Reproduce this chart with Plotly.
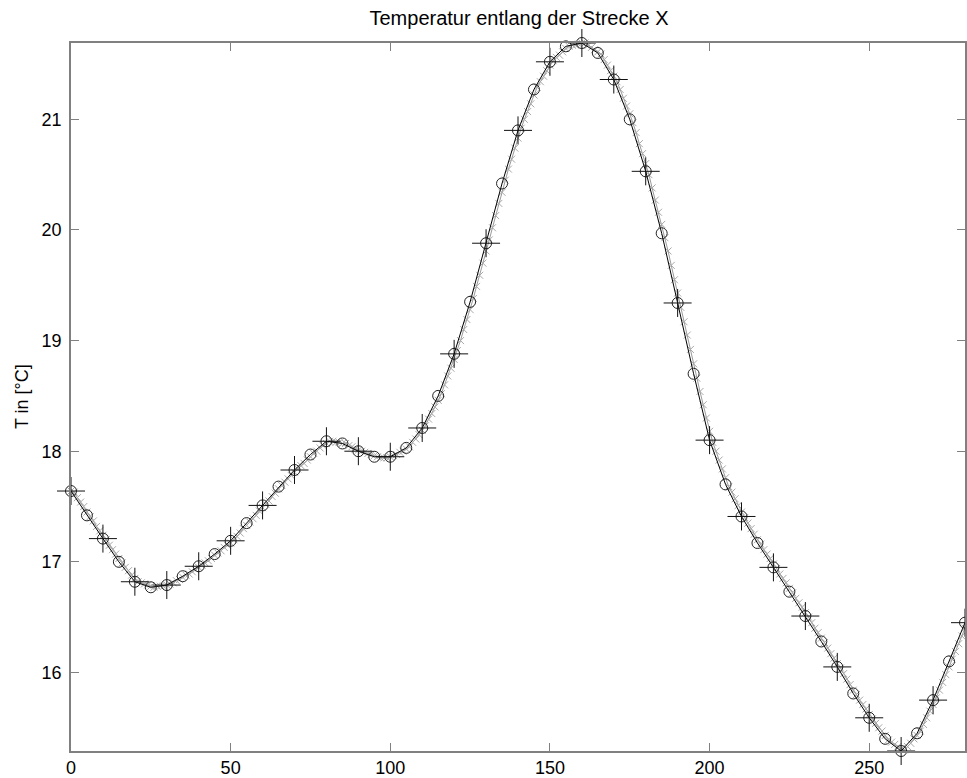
import plotly.graph_objects as go

# Temperature readings every 5 units along the route (black line, circles)
x_coarse = list(range(0, 281, 5))
t_coarse = [
    17.64, 17.42, 17.21, 17.00, 16.82, 16.77, 16.79, 16.87, 16.96, 17.07,
    17.19, 17.35, 17.51, 17.68, 17.83, 17.97, 18.09, 18.07, 18.00, 17.95,
    17.95, 18.03, 18.21, 18.50, 18.88, 19.35, 19.88, 20.42, 20.90, 21.27,
    21.52, 21.66, 21.69, 21.60, 21.36, 21.00, 20.53, 19.97, 19.34, 18.70,
    18.10, 17.70, 17.41, 17.17, 16.95, 16.73, 16.51, 16.28, 16.05, 15.81,
    15.59, 15.40, 15.29, 15.45, 15.75, 16.10, 16.45,
]

# Readings every 10 units (plus markers)
x_plus = list(range(0, 281, 10))
t_plus = [
    17.64, 17.21, 16.82, 16.79, 16.96, 17.19, 17.51, 17.83, 18.09, 18.00,
    17.95, 18.21, 18.88, 19.88, 20.90, 21.52, 21.69, 21.36, 20.53, 19.34,
    18.10, 17.41, 16.95, 16.51, 16.05, 15.59, 15.29, 15.75, 16.45,
]

# Dense readings every unit (grey line, x markers)
x_dense = list(range(0, 281))
t_dense = [
    17.64,
    17.63, 17.58, 17.54, 17.50, 17.45, 17.41, 17.37, 17.32, 17.28, 17.24,
    17.20, 17.15, 17.11, 17.07, 17.03, 16.99, 16.95, 16.92, 16.88, 16.85,
    16.82, 16.81, 16.80, 16.79, 16.78, 16.77, 16.78, 16.78, 16.78, 16.79,
    16.80, 16.81, 16.83, 16.84, 16.86, 16.88, 16.89, 16.91, 16.93, 16.95,
    16.97, 16.99, 17.01, 17.03, 17.06, 17.08, 17.10, 17.13, 17.15, 17.17,
    17.20, 17.23, 17.26, 17.30, 17.33, 17.36, 17.39, 17.42, 17.46, 17.49,
    17.52, 17.55, 17.59, 17.62, 17.66, 17.69, 17.72, 17.75, 17.78, 17.81,
    17.84, 17.87, 17.89, 17.92, 17.95, 17.98, 18.00, 18.03, 18.05, 18.07,
    18.09, 18.09, 18.08, 18.08, 18.07, 18.07, 18.05, 18.04, 18.02, 18.01,
    18.00, 17.99, 17.98, 17.97, 17.96, 17.95, 17.94, 17.94, 17.94, 17.95,
    17.96, 17.97, 17.99, 18.00, 18.02, 18.04, 18.08, 18.11, 18.15, 18.19,
    18.23, 18.29, 18.34, 18.40, 18.46, 18.52, 18.60, 18.68, 18.75, 18.83,
    18.91, 19.00, 19.10, 19.19, 19.28, 19.38, 19.49, 19.59, 19.70, 19.81,
    19.91, 20.02, 20.13, 20.24, 20.34, 20.45, 20.55, 20.64, 20.74, 20.83,
    20.92, 21.00, 21.07, 21.14, 21.22, 21.29, 21.34, 21.39, 21.44, 21.49,
    21.53, 21.56, 21.58, 21.61, 21.64, 21.66, 21.67, 21.67, 21.68, 21.69,
    21.69, 21.67, 21.65, 21.63, 21.61, 21.59, 21.54, 21.49, 21.44, 21.39,
    21.34, 21.27, 21.19, 21.12, 21.05, 20.97, 20.88, 20.78, 20.69, 20.60,
    20.50, 20.38, 20.27, 20.16, 20.05, 19.93, 19.81, 19.68, 19.55, 19.43,
    19.30, 19.17, 19.05, 18.92, 18.79, 18.66, 18.54, 18.42, 18.30, 18.18,
    18.08, 18.00, 17.92, 17.84, 17.76, 17.68, 17.63, 17.57, 17.51, 17.45,
    17.40, 17.35, 17.30, 17.25, 17.20, 17.16, 17.11, 17.07, 17.03, 16.98,
    16.94, 16.89, 16.85, 16.81, 16.76, 16.72, 16.67, 16.63, 16.59, 16.54,
    16.50, 16.45, 16.40, 16.36, 16.31, 16.27, 16.22, 16.17, 16.13, 16.08,
    16.04, 15.99, 15.94, 15.89, 15.84, 15.80, 15.75, 15.71, 15.67, 15.62,
    15.58, 15.54, 15.50, 15.47, 15.43, 15.39, 15.37, 15.35, 15.33, 15.31,
    15.30, 15.33, 15.36, 15.40, 15.43, 15.47, 15.53, 15.59, 15.65, 15.71,
    15.77, 15.84, 15.91, 15.98, 16.05, 16.12, 16.19, 16.26, 16.33, 16.40,
]

x_ticks = [0, 50, 100, 150, 200, 250]
y_ticks = [16, 17, 18, 19, 20, 21]

FONT = "Liberation Sans, Arial, sans-serif"
AXIS_GREY = "#808080"

fig = go.Figure()

fig.add_trace(go.Scatter(
    x=x_dense, y=t_dense, mode="lines+markers",
    line=dict(color="#9a9a9a", width=1),
    marker=dict(symbol="x-thin-open", size=7, color="#a8a8a8",
                line=dict(color="#a8a8a8", width=1)),
    showlegend=False, hoverinfo="skip", cliponaxis=False,
))

fig.add_trace(go.Scatter(
    x=x_coarse, y=t_coarse, mode="lines+markers",
    line=dict(color="black", width=1),
    marker=dict(symbol="circle-open", size=11, color="#222222",
                line=dict(color="#222222", width=1)),
    showlegend=False, hoverinfo="skip", cliponaxis=False,
))

fig.add_trace(go.Scatter(
    x=x_plus, y=t_plus, mode="markers",
    marker=dict(symbol="cross-thin-open", size=20, color="#111111",
                line=dict(color="#111111", width=1)),
    showlegend=False, hoverinfo="skip", cliponaxis=False,
))

axis_common = dict(
    showgrid=False, zeroline=False,
    showline=True, linecolor=AXIS_GREY, linewidth=1.5,
    mirror="ticks", ticks="inside", ticklen=8, tickwidth=1,
    tickcolor=AXIS_GREY,
    tickfont=dict(family=FONT, size=18, color="black"),
)

fig.update_xaxes(range=[0, 280], tickvals=x_ticks,
                 ticktext=[str(v) for v in x_ticks], **axis_common)
fig.update_yaxes(range=[15.29, 21.69], tickvals=y_ticks,
                 ticktext=[str(v) for v in y_ticks],
                 ticklabelstandoff=4, **axis_common)

fig.update_layout(
    width=967, height=778,
    margin=dict(l=71, r=0, t=43, b=27),
    paper_bgcolor="white", plot_bgcolor="white",
    title=dict(text="Temperatur entlang der Strecke X",
               x=519 / 967, xanchor="center",
               y=1 - 18 / 778, yanchor="middle",
               font=dict(family=FONT, size=20, color="black")),
    annotations=[dict(
        text="T in [°C]", textangle=-90,
        xref="paper", yref="paper",
        x=(22 - 71) / 896, y=0.5,
        xanchor="center", yanchor="middle", showarrow=False,
        font=dict(family=FONT, size=18, color="black"),
    )],
)

fig.write_html("out.html")
